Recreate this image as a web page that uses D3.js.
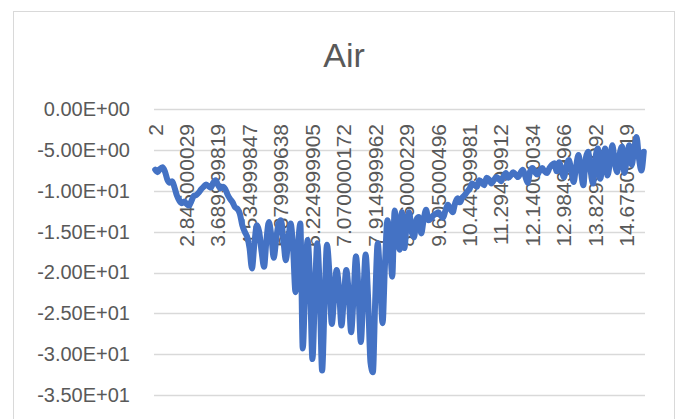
<!DOCTYPE html>
<html>
<head>
<meta charset="utf-8">
<script src="https://cdn.jsdelivr.net/npm/d3@7/dist/d3.min.js"></script>
<style>
  html, body { margin: 0; padding: 0; background: #fff; }
  svg { display: block; }
  text { font-family: "Liberation Sans", Arial, sans-serif; fill: #595959; }
</style>
</head>
<body>
<svg id="chart" width="681" height="419"></svg>
<script>
const title = "Air";

const values = [
  -7.4, -7.7, -7.3, -7.1, -7.6, -8.6, -9.0, -8.8, -9.6, -10.6,
  -11.2, -11.5, -11.3, -11.6, -11.8, -11.2, -10.6, -10.5, -10.2, -9.8,
  -9.5, -9.2, -9.4, -9.6, -9.0, -8.7, -9.3, -9.7, -9.5, -9.8,
  -10.5, -11.0, -11.4, -12.0, -12.2, -12.8, -14.2, -15.0, -15.6,
  -17.0, -19.5, -16.5, -14.2, -15.0, -17.5, -19.3, -16.0, -13.8, -15.5,
  -18.2, -16.0, -14.0, -13.6, -16.0, -18.5, -16.0, -14.0, -17.0, -22.4,
  -17.0, -14.0,
  -29.3, -22.0, -16.0, -21.0, -30.6, -23.0, -16.4, -22.0, -32.0, -24.0,
  -16.6, -20.0, -26.3, -23.0, -19.7, -22.0, -26.5, -23.0, -19.7, -22.5,
  -27.3, -23.0, -18.0, -22.0, -28.5, -23.0, -17.8, -23.0, -31.0, -32.2,
  -23.0, -16.4, -21.0, -26.2, -19.0, -13.6, -16.0, -20.5, -12.4, -15.0,
  -17.2,
  -12.6, -17.0, -14.0, -12.6, -15.0, -15.7, -13.5, -13.2, -15.2, -13.5,
  -12.3, -13.6, -13.4, -13.0, -12.8, -12.6, -13.0, -13.3, -12.4, -11.7,
  -12.2, -12.6, -11.5, -10.9, -11.4, -10.8, -10.5, -10.1,
  -9.7, -9.1, -9.3, -9.5, -8.7, -8.9, -9.3, -8.4, -8.6, -9.1,
  -8.7, -8.3, -8.5, -8.8, -8.2, -7.8, -8.4, -8.1, -7.7, -8.0,
  -8.3, -7.8, -7.4, -8.2, -9.0, -7.6, -7.2, -7.7, -8.0, -7.5,
  -7.2, -7.6, -7.8, -7.2, -6.8, -6.6,
  -7.6, -6.5, -7.4, -8.3, -7.0, -6.2, -7.5, -8.9, -7.0, -5.6,
  -7.5, -9.3, -6.0, -5.2, -7.5, -9.1, -6.0, -4.8, -8.5, -6.5,
  -4.8, -8.1, -6.5, -4.4, -6.5, -7.7, -5.5, -4.6, -7.8, -6.0,
  -4.4, -6.8, -5.0, -3.4, -6.0, -7.5, -5.2
];

const categories = values.map((v, i) => i);

const xTickLabels = [
  "2", "2.845000029", "3.689999819", "4.534999847", "5.379999638",
  "6.224999905", "7.070000172", "7.914999962", "8.760000229", "9.605000496",
  "10.44999981", "11.29499912", "12.14000034", "12.98499966", "13.82999992",
  "14.67500019"
];
const xTickIndex = [0, 13, 26, 39, 52, 65, 78, 91, 104, 117, 130, 143, 156, 169, 182, 195];

const yTickValues = [0, -5, -10, -15, -20, -25, -30, -35];
const yTickLabels = ["0.00E+00", "-5.00E+00", "-1.00E+01", "-1.50E+01",
                     "-2.00E+01", "-2.50E+01", "-3.00E+01", "-3.50E+01"];

const svg = d3.select("#chart");
const plot = { left: 154, right: 645, top: 109.3, bottom: 395 };

// chart border
svg.append("rect")
  .attr("x", 13.5).attr("y", 11.5)
  .attr("width", 661).attr("height", 430)
  .attr("fill", "#fff").attr("stroke", "#d9d9d9").attr("stroke-width", 1);

// title
svg.append("text")
  .attr("x", 344).attr("y", 67)
  .attr("text-anchor", "middle")
  .attr("font-size", 34)
  .text(title);

const x = d3.scaleBand().domain(categories).range([plot.left, plot.right]);
const y = d3.scaleLinear().domain([-35, 0]).range([plot.bottom, plot.top]);
const cx = i => x(i) + x.bandwidth() / 2;

// gridlines
svg.append("g").selectAll("line").data(yTickValues).join("line")
  .attr("x1", plot.left).attr("x2", plot.right)
  .attr("y1", d => Math.round(y(d)) + 0.5).attr("y2", d => Math.round(y(d)) + 0.5)
  .attr("stroke", "#d9d9d9").attr("stroke-width", 1.3);

// y axis labels
const yAxis = d3.axisLeft(y).tickValues(yTickValues)
  .tickFormat((d, i) => yTickLabels[i]).tickSize(0).tickPadding(0);
const gy = svg.append("g").attr("transform", `translate(130,0)`).call(yAxis);
gy.select(".domain").remove();
gy.selectAll("text").attr("font-size", 20).attr("fill", "#595959")
  .attr("font-family", "Liberation Sans, Arial, sans-serif");

// x category labels (rotated, at top beneath zero line)
svg.append("g").selectAll("text").data(xTickIndex).join("text")
  .attr("transform", d => `translate(${cx(d)},124) rotate(-90)`)
  .attr("text-anchor", "end")
  .attr("dy", "0.35em")
  .attr("font-size", 21)
  .text((d, i) => xTickLabels[i]);

// line
const line = d3.line()
  .x((d, i) => cx(categories[i]))
  .y(d => y(d))
  .curve(d3.curveMonotoneX);

svg.append("path")
  .datum(values)
  .attr("d", line)
  .attr("fill", "none")
  .attr("stroke", "#4472C4")
  .attr("stroke-width", 6)
  .attr("stroke-linejoin", "round")
  .attr("stroke-linecap", "round");
</script>
</body>
</html>
